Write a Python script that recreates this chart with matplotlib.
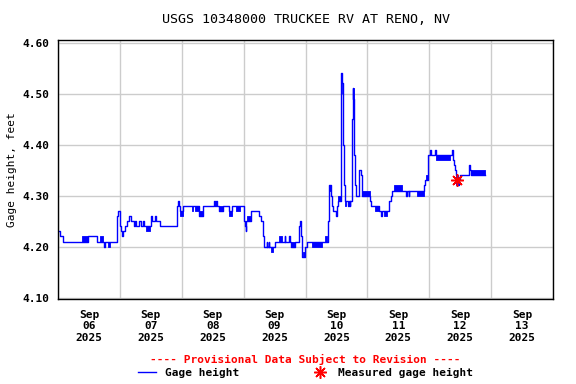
import numpy as np
import pandas as pd
import matplotlib
matplotlib.use("Agg")
import matplotlib.pyplot as plt
import matplotlib.dates as mdates
from matplotlib.lines import Line2D

# =====================
# DATOS (horas desde 2025-09-06 00:00, altura en pies)
# =====================

hours = [0.0, 0.6, 2.0, 11.5, 15.0, 17.9, 18.2, 23.0, 23.4, 23.9, 24.3, 25.0,
         25.4, 26.0, 26.8, 27.5, 28.5, 29.3, 30.0, 30.4, 31.6, 32.0, 32.8,
         33.5, 35.5, 35.9, 36.2, 36.5, 37.6, 37.9, 39.5, 46.0, 46.3, 46.6,
         46.9, 47.3, 48.5, 54.7, 56.1, 60.6, 60.8, 61.3, 61.5, 62.6, 64.1,
         66.2, 67.5, 72.0, 72.6, 72.9, 73.1, 74.8, 78.1, 78.7, 79.6, 79.8,
         80.0, 80.9, 81.1, 81.8, 82.0, 84.3, 88.0, 88.2, 89.6, 89.8, 90.3,
         92.0, 93.3, 93.5, 93.8, 94.2, 94.4, 94.8, 95.9, 96.4, 104.9, 105.2,
         105.9, 106.2, 106.7, 108.0, 108.2, 108.5, 109.7, 109.9, 110.2, 110.4,
         111.0, 111.2, 112.5, 112.7, 113.2, 113.4, 114.2, 114.4, 114.6, 114.8,
         115.2, 115.7, 116.8, 117.5, 117.8, 118.1, 120.9, 121.3, 124.5, 125.4,
         125.6, 128.4, 129.0, 129.6, 134.8, 135.2, 136.0, 136.3, 141.8, 142.5,
         143.5, 144.1, 144.8, 146.3, 146.6, 152.8, 153.1, 153.5, 153.9, 154.3,
         154.6, 155.6, 156.0, 159.4, 159.8, 160.2, 165.6]
gage = [4.23, 4.22, 4.21, 4.22, 4.21, 4.20, 4.21, 4.26, 4.27, 4.24, 4.23, 4.22,
        4.23, 4.24, 4.25, 4.26, 4.25, 4.24, 4.25, 4.24, 4.25, 4.24, 4.25,
        4.24, 4.24, 4.25, 4.26, 4.25, 4.26, 4.25, 4.24, 4.25, 4.28, 4.29,
        4.28, 4.27, 4.28, 4.26, 4.28, 4.29, 4.28, 4.29, 4.28, 4.27, 4.28,
        4.27, 4.28, 4.25, 4.24, 4.23, 4.25, 4.27, 4.26, 4.25, 4.22, 4.21,
        4.20, 4.21, 4.20, 4.21, 4.20, 4.21, 4.22, 4.21, 4.22, 4.21, 4.20,
        4.21, 4.22, 4.24, 4.25, 4.24, 4.22, 4.18, 4.20, 4.21, 4.25, 4.32,
        4.30, 4.28, 4.27, 4.26, 4.28, 4.29, 4.44, 4.54, 4.52, 4.40,
        4.32, 4.29, 4.28, 4.29, 4.28, 4.29, 4.45, 4.51, 4.49, 4.38,
        4.32, 4.30, 4.35, 4.34, 4.31, 4.30, 4.29, 4.28, 4.27, 4.26,
        4.27, 4.29, 4.30, 4.31, 4.30, 4.31, 4.30, 4.31, 4.32, 4.33,
        4.38, 4.39, 4.38, 4.39, 4.38, 4.39, 4.37, 4.36, 4.35, 4.34,
        4.32, 4.33, 4.34, 4.36, 4.35, 4.34, 4.34]

# tramos donde la lectura oscila entre dos valores (bloques rellenos)
band_t0 = [9.5, 16.3, 19.3, 34.0, 47.5, 51.8, 53.0, 54.7, 62.6, 66.2, 69.0,
           73.5, 82.6, 85.8, 90.3, 93.8, 95.1, 98.4, 103.6, 105.2, 108.5,
           110.0, 111.2, 114.4, 118.1, 123.0, 126.4, 130.3, 139.3, 142.9,
           144.1, 146.6, 154.3, 160.2]
band_t1 = [11.5, 17.6, 20.2, 35.5, 48.5, 52.3, 54.7, 56.1, 64.1, 67.5, 70.5,
           74.8, 83.5, 86.8, 92.0, 94.2, 95.9, 102.3, 104.5, 105.9, 109.7,
           110.3, 111.9, 114.8, 120.9, 124.5, 127.7, 133.5, 141.8, 143.5,
           144.8, 152.1, 155.3, 165.6]
band_lo = [4.21, 4.21, 4.20, 4.23, 4.26, 4.27, 4.27, 4.26, 4.27, 4.26, 4.27,
           4.25, 4.19, 4.21, 4.20, 4.24, 4.18, 4.20, 4.21, 4.31, 4.29,
           4.50, 4.28, 4.47, 4.30, 4.27, 4.26, 4.31, 4.30, 4.33,
           4.38, 4.37, 4.32, 4.34]
band_hi = [4.22, 4.22, 4.21, 4.24, 4.27, 4.28, 4.28, 4.27, 4.28, 4.27, 4.28,
           4.26, 4.20, 4.22, 4.21, 4.25, 4.19, 4.21, 4.22, 4.32, 4.30,
           4.54, 4.29, 4.51, 4.31, 4.28, 4.27, 4.32, 4.31, 4.34,
           4.39, 4.38, 4.34, 4.35]

# medicion de campo
meas_hour = [154.7]
meas_gage = [4.33]

start = pd.Timestamp("2025-09-06 00:00")

def to_time(h):
    return start + pd.to_timedelta(np.asarray(h), unit="h")

# =====================
# FIGURA
# =====================

plt.rcParams["font.family"] = "DejaVu Sans Mono"
plt.rcParams["font.weight"] = "bold"
plt.rcParams["font.size"] = 8

fig = plt.figure(figsize=(5.76, 3.84), dpi=100)
ax = fig.add_axes([58/576, 1-299/384, 495/576, 259/384])

ax.plot(to_time(hours), gage, drawstyle="steps-post", color="#0000FF", lw=1.0)
for t0, t1, lo, hi in zip(band_t0, band_t1, band_lo, band_hi):
    ax.fill_between(to_time([t0, t1]), lo, hi, color="#0000FF", lw=0.6)

ax.plot(to_time(meas_hour), meas_gage, ls="none", marker=(8, 2, 0),
        ms=9, mew=1.1, color="red", zorder=5)

ax.set_xlim(start, start + pd.Timedelta(days=8))
ax.set_ylim(4.0975, 4.605)
ax.set_yticks(np.arange(4.10, 4.61, 0.10))
ax.yaxis.set_major_formatter(plt.FormatStrFormatter("%.2f"))

ax.xaxis.set_major_locator(mdates.DayLocator())
ax.xaxis.set_major_formatter(plt.NullFormatter())
ax.xaxis.set_minor_locator(mdates.HourLocator(byhour=12))
ax.xaxis.set_minor_formatter(mdates.DateFormatter("%b\n%d\n%Y"))

ax.tick_params(which="both", length=0, pad=6)
ax.tick_params(axis="x", which="minor", pad=8)
for lab in ax.get_xticklabels(minor=True):
    lab.set_linespacing(1.15)

ax.grid(True, which="major", color="#CCCCCC", lw=1.0)
ax.set_axisbelow(True)
for s in ax.spines.values():
    s.set_linewidth(1.0)

ax.set_ylabel("Gage height, feet", labelpad=4)
ax.set_title("USGS 10348000 TRUCKEE RV AT RENO, NV", pad=12)

fig.text(0.53, 1-359/384, "---- Provisional Data Subject to Revision ----",
         color="red", ha="center", va="center")

handles = [Line2D([], [], color="#0000FF", lw=1.0),
           Line2D([], [], ls="none", marker=(8, 2, 0), ms=9, mew=1.1, color="red")]
fig.legend(handles, ["Gage height", "Measured gage height"], loc="center",
           bbox_to_anchor=(0.53, 1-373/384), ncol=2, frameon=False,
           handlelength=1.6, handletextpad=0.8, columnspacing=6.5,
           borderpad=0, borderaxespad=0)

fig.savefig("out.png", dpi=100)
